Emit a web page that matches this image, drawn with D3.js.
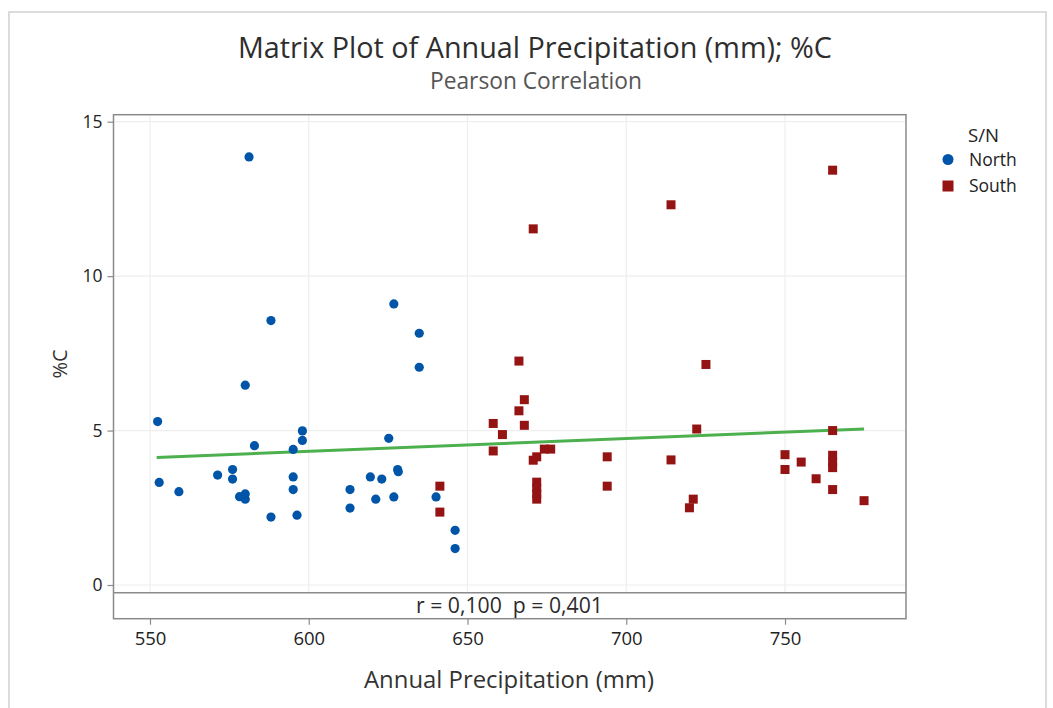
<!DOCTYPE html>
<html>
<head>
<meta charset="utf-8">
<script src="https://cdn.jsdelivr.net/npm/d3@7"></script>
<style>
  html, body { margin: 0; padding: 0; background: #fff; }
  svg { display: block; font-family: "Open Sans", "Noto Sans", sans-serif; }
</style>
</head>
<body>
<svg id="chart" width="1053" height="708"></svg>
<script>
// ---- Data ----
const northX = [581.2, 588.1, 626.8, 634.8, 634.8, 580.0, 552.4, 552.9, 559.1, 571.3, 576.0, 576.0,
                578.2, 580.0, 580.0, 582.9, 588.1, 595.1, 595.1, 595.1, 596.3, 598.0, 598.0, 613.0,
                613.0, 619.4, 623.0, 621.1, 625.2, 628.0, 628.2, 626.8, 640.1, 646.1, 646.1];
const northY = [13.86, 8.56, 9.10, 8.15, 7.05, 6.47, 5.29, 3.32, 3.02, 3.56, 3.74, 3.43,
                2.86, 2.95, 2.78, 4.51, 2.20, 4.39, 3.50, 3.09, 2.26, 4.99, 4.68, 3.09,
                2.49, 3.50, 3.43, 2.78, 4.75, 3.74, 3.67, 2.85, 2.85, 1.77, 1.18];
const southX = [641.3, 641.3, 666.2, 667.9, 666.2, 658.1, 667.9, 661.0, 658.1, 674.2, 676.2, 671.8,
                670.7, 671.8, 671.8, 671.8, 671.8, 694.0, 694.0, 725.1, 722.2, 714.1, 721.1, 719.9,
                750.0, 750.0, 755.1, 759.8, 765.0, 765.0, 765.0, 765.0, 765.0, 774.9, 670.7, 714.1, 765.0];
const southY = [3.20, 2.36, 7.25, 6.00, 5.64, 5.23, 5.17, 4.87, 4.34, 4.40, 4.40, 4.15,
                4.04, 3.33, 3.13, 2.95, 2.78, 4.15, 3.20, 7.14, 5.05, 4.05, 2.78, 2.50,
                4.22, 3.74, 3.98, 3.44, 5.00, 4.20, 3.98, 3.80, 3.09, 2.73, 11.53, 12.31, 13.43];
// fitted regression line (start / end)
const fitX = [552.1, 774.9];
const fitY = [4.13, 5.05];
const xTicks = [550, 600, 650, 700, 750];
const yTicks = [0, 5, 10, 15];
const groupNames = ["North", "South"];
const titleText = "Matrix Plot of Annual Precipitation (mm); %C";
const subtitleText = "Pearson Correlation";
const xLabel = "Annual Precipitation (mm)";
const yLabel = "%C";
const annotation = "r = 0,100  p = 0,401";
const legendTitle = "S/N";

// ---- Layout ----
const svg = d3.select("#chart");
const colors = { North: "#0055A8", South: "#941414" };
const fitColor = "#4DB04F";
const textColor = "#222";
const panelL = 113.5, panelR = 906, panelT = 114.7, dataB = 592.7, frameB = 618.7;

const x = d3.scaleLinear().domain([550, 750]).range([150, 785]);
const y = d3.scaleLinear().domain([0, 15]).range([585, 121.7]);

// scale a text's font size so it spans a given width
function fitWidth(sel, w) {
  const fs = parseFloat(sel.attr("font-size"));
  const cur = sel.node().getComputedTextLength();
  if (cur > 0) sel.attr("font-size", (fs * w / cur).toFixed(2));
  return sel;
}

// outer light frame
svg.append("rect").attr("x", 9).attr("y", 12).attr("width", 1037).attr("height", 720)
  .attr("fill", "none").attr("stroke", "#dcdcdc").attr("stroke-width", 2);

// gridlines
const grid = svg.append("g");
grid.selectAll("line.gx").data(xTicks).join("line")
  .attr("x1", d => x(d)).attr("x2", d => x(d)).attr("y1", panelT).attr("y2", dataB)
  .attr("stroke", "#eeeeee").attr("stroke-width", 1.2);
grid.selectAll("line.gy").data(yTicks).join("line")
  .attr("x1", panelL).attr("x2", panelR).attr("y1", d => y(d)).attr("y2", d => y(d))
  .attr("stroke", "#eeeeee").attr("stroke-width", 1.2);

// regression line
svg.append("path")
  .datum(fitX.map((v, i) => [v, fitY[i]]))
  .attr("d", d3.line().x(d => x(d[0])).y(d => y(d[1])))
  .attr("fill", "none").attr("stroke", fitColor).attr("stroke-width", 3);

// points
const north = northX.map((v, i) => ({ x: v, y: northY[i] }));
const south = southX.map((v, i) => ({ x: v, y: southY[i] }));
svg.append("g").selectAll("circle").data(north).join("circle")
  .attr("cx", d => x(d.x)).attr("cy", d => y(d.y)).attr("r", 4.6)
  .attr("fill", colors.North);
const sq = 9;
svg.append("g").selectAll("rect").data(south).join("rect")
  .attr("x", d => x(d.x) - sq / 2).attr("y", d => y(d.y) - sq / 2)
  .attr("width", sq).attr("height", sq).attr("fill", colors.South);

// panel frame + annotation strip
svg.append("rect").attr("x", panelL).attr("y", panelT).attr("width", panelR - panelL).attr("height", frameB - panelT)
  .attr("fill", "none").attr("stroke", "#8a8a8a").attr("stroke-width", 1.5);
svg.append("line").attr("x1", panelL).attr("x2", panelR).attr("y1", dataB).attr("y2", dataB)
  .attr("stroke", "#8a8a8a").attr("stroke-width", 1.5);
const ann = svg.append("text").attr("x", 509.5).attr("y", 613)
  .attr("text-anchor", "middle").attr("font-size", 19).attr("fill", "#2b2b2b")
  .style("white-space", "pre").attr("xml:space", "preserve").text(annotation);
fitWidth(ann, 187);

// axes
const xAxis = d3.axisBottom(x).tickValues(xTicks).tickSize(6).tickPadding(7).tickFormat(d3.format("d"));
const gx = svg.append("g").attr("transform", `translate(0,${frameB})`).call(xAxis);
gx.select(".domain").remove();
gx.selectAll(".tick line").attr("stroke", "#8a8a8a").attr("stroke-width", 1.2);
gx.selectAll(".tick text").attr("font-size", 18.5).attr("fill", textColor).attr("font-family", "Open Sans, Noto Sans, sans-serif");

const yAxis = d3.axisLeft(y).tickValues(yTicks).tickSize(6).tickPadding(5).tickFormat(d3.format("d"));
const gy = svg.append("g").attr("transform", `translate(${panelL},0)`).call(yAxis);
gy.select(".domain").remove();
gy.selectAll(".tick line").attr("stroke", "#8a8a8a").attr("stroke-width", 1.2);
gy.selectAll(".tick text").attr("font-size", 17.5).attr("fill", textColor).attr("font-family", "Open Sans, Noto Sans, sans-serif");

// titles
const t1 = svg.append("text").attr("x", 535).attr("y", 58).attr("text-anchor", "middle")
  .attr("font-size", 28).attr("fill", "#2e2e2e").text(titleText);
fitWidth(t1, 594);
const t2 = svg.append("text").attr("x", 536).attr("y", 89).attr("text-anchor", "middle")
  .attr("font-size", 21).attr("fill", "#555").text(subtitleText);
fitWidth(t2, 212);
const xl = svg.append("text").attr("x", 509).attr("y", 688).attr("text-anchor", "middle")
  .attr("font-size", 23).attr("fill", "#333").text(xLabel);
fitWidth(xl, 290);
svg.append("text").attr("transform", "translate(67,364) rotate(-90)").attr("text-anchor", "middle")
  .attr("font-size", 20).attr("fill", "#333").text(yLabel);

// legend
const lg = svg.append("g");
const lt = lg.append("text").attr("x", 968).attr("y", 142).attr("font-size", 17).attr("fill", textColor).text(legendTitle);
fitWidth(lt, 31);
const items = lg.selectAll("g.item").data(groupNames).join("g")
  .attr("transform", (d, i) => `translate(948,${159.5 + i * 26.5})`);
items.each(function (d) {
  const g = d3.select(this);
  if (d === "North") g.append("circle").attr("r", 5.5).attr("fill", colors.North);
  else g.append("rect").attr("x", -5.5).attr("y", -5.5).attr("width", 11).attr("height", 11).attr("fill", colors.South);
  g.append("text").attr("x", 21).attr("y", 6).attr("font-size", 17.5).attr("fill", textColor).text(d);
});
</script>
</body>
</html>
